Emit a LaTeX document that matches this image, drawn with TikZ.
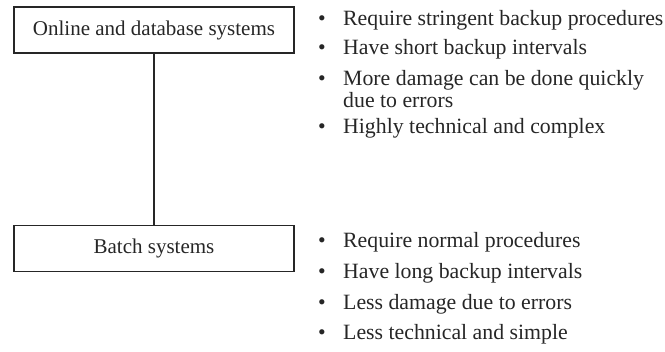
\documentclass[tikz,border=0pt]{standalone}
\usepackage{fontspec}
\setmainfont{Liberation Serif}
\begin{document}
\begin{tikzpicture}[x=1pt,y=-1pt,
  sysbox/.style={draw=black!85, line width=1.2pt, minimum width=280pt, minimum height=46pt, inner sep=0pt, font=\fontsize{21}{23}\selectfont, text=black!85},
  item/.style={anchor=base west, inner sep=0pt, font=\fontsize{21.8}{21}\selectfont, text=black!85},
  link/.style={draw=black!85, line width=1.2pt}]
\useasboundingbox (0,0) rectangle (665,352);
\node[sysbox] (online) at (154,30) {Online and database systems};
\node[sysbox] (batch) at (154,248.5) {Batch systems};
\draw[link] (online.south) -- (batch.north);
\newcommand{\bul}{\makebox[25pt][l]{\textbullet}}
\node[item] (a1) at (318,26) {\bul Require stringent backup procedures};
\node[item] (a2) at (318,55) {\bul Have short backup intervals};
\node[item] (a3) at (318,86) {\parbox[t]{340pt}{\fontsize{21.8}{21.5}\selectfont\bul More damage can be done quickly\\\hspace*{25pt}due to errors}};
\node[item] (a4) at (318,134) {\bul Highly technical and complex};
\node[item] (b1) at (318,248) {\bul Require normal procedures};
\node[item] (b2) at (318,279) {\bul Have long backup intervals};
\node[item] (b3) at (318,310) {\bul Less damage due to errors};
\node[item] (b4) at (318,340) {\bul Less technical and simple};
\end{tikzpicture}
\end{document}
